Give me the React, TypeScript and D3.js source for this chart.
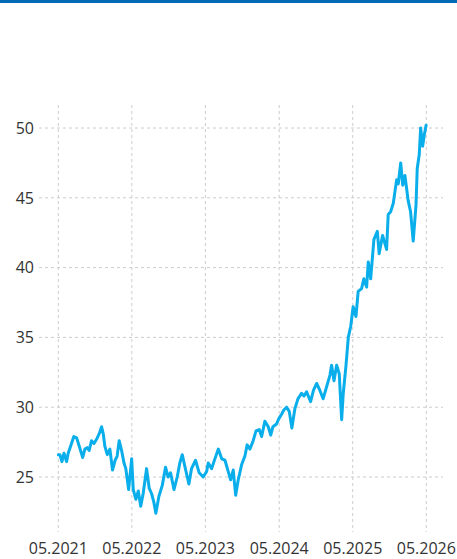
import React from 'react';
import * as d3 from 'd3';

const dates = [
  '2021-05-01', '2021-05-09', '2021-05-19', '2021-05-29', '2021-06-11', '2021-06-19', '2021-07-01', '2021-07-17',
  '2021-07-31', '2021-08-13', '2021-08-30', '2021-09-10', '2021-09-21', '2021-10-01', '2021-10-13', '2021-10-25',
  '2021-11-07', '2021-11-20', '2021-12-02', '2021-12-10', '2021-12-18', '2021-12-30', '2022-01-12', '2022-01-25',
  '2022-02-07', '2022-02-17', '2022-02-27', '2022-03-11', '2022-03-23', '2022-04-01', '2022-04-15', '2022-04-30',
  '2022-05-08', '2022-05-21', '2022-06-02', '2022-06-14', '2022-06-26', '2022-07-13', '2022-07-26', '2022-08-07',
  '2022-08-18', '2022-08-28', '2022-09-12', '2022-09-29', '2022-10-15', '2022-10-28', '2022-11-09', '2022-11-26',
  '2022-12-12', '2022-12-25', '2023-01-06', '2023-01-23', '2023-02-08', '2023-02-21', '2023-03-13', '2023-03-31',
  '2023-04-20', '2023-05-07', '2023-05-15', '2023-06-01', '2023-06-17', '2023-07-04', '2023-07-21', '2023-08-06',
  '2023-08-22', '2023-09-03', '2023-09-16', '2023-09-28', '2023-10-11', '2023-10-28', '2023-11-13', '2023-11-24',
  '2023-12-08', '2023-12-24', '2024-01-07', '2024-01-23', '2024-02-04', '2024-02-20', '2024-03-08', '2024-03-20',
  '2024-03-31', '2024-04-18', '2024-04-30', '2024-05-13', '2024-05-24', '2024-06-07', '2024-06-20', '2024-07-03',
  '2024-07-18', '2024-08-02', '2024-08-20', '2024-09-01', '2024-09-14', '2024-10-04', '2024-10-18', '2024-11-03',
  '2024-11-19', '2024-12-05', '2024-12-25', '2025-01-08', '2025-01-16', '2025-01-28', '2025-02-10', '2025-02-23',
  '2025-03-07', '2025-03-15', '2025-03-28', '2025-04-09', '2025-04-21', '2025-05-03', '2025-05-17', '2025-05-28',
  '2025-06-14', '2025-06-25', '2025-07-09', '2025-07-17', '2025-07-29', '2025-08-14', '2025-08-31', '2025-09-09',
  '2025-09-26', '2025-10-16', '2025-10-24', '2025-11-05', '2025-11-18', '2025-12-05', '2025-12-13', '2025-12-25',
  '2026-01-04', '2026-01-15', '2026-01-31', '2026-02-12', '2026-02-25', '2026-03-11', '2026-03-17', '2026-03-27',
  '2026-04-03', '2026-04-13', '2026-04-21', '2026-04-30',
];

const prices = [
  26.6, 26.6, 26.1, 26.7, 26.1, 26.7, 27.2, 27.9,
  27.8, 27.2, 26.4, 27.0, 27.1, 26.9, 27.6, 27.4,
  27.7, 28.1, 28.6, 28.1, 27.2, 26.6, 27.0, 25.5,
  26.2, 26.5, 27.6, 26.9, 26.0, 25.6, 24.1, 26.3,
  24.1, 23.4, 24.0, 22.9, 23.8, 25.6, 24.2, 23.8,
  23.2, 22.4, 23.6, 24.4, 25.7, 25.0, 25.3, 24.1,
  25.0, 26.0, 26.6, 25.5, 24.5, 25.6, 26.2, 25.3,
  25.0, 25.4, 26.0, 25.6, 26.3, 27.0, 26.3, 26.2,
  25.4, 24.8, 25.5, 23.7, 24.8, 25.9, 26.5, 27.3,
  27.0, 27.6, 28.3, 28.4, 27.9, 29.0, 28.6, 28.0,
  28.6, 28.8, 29.2, 29.5, 29.8, 30.0, 29.7, 28.5,
  29.9, 30.6, 31.0, 30.8, 31.1, 30.4, 31.2, 31.7,
  31.2, 30.6, 31.6, 32.3, 33.0, 31.9, 33.0, 32.4,
  29.1, 31.0, 32.9, 35.0, 35.8, 37.2, 36.5, 38.3,
  38.5, 39.2, 38.6, 40.4, 39.2, 42.0, 42.6, 41.0,
  42.3, 41.3, 43.8, 44.0, 44.6, 46.3, 46.0, 47.5,
  45.9, 46.6, 44.8, 44.0, 41.9, 44.5, 47.1, 48.1,
  50.0, 48.7, 49.5, 50.2,
];

const yTicks = [25, 30, 35, 40, 45, 50];
const xTicks = ['2021-05-01', '2022-05-01', '2023-05-01', '2024-05-01', '2025-05-01', '2026-05-01'];

const W = 457;
const H = 559;

export default function App() {
  const parse = d3.timeParse('%Y-%m-%d');
  const fmt = d3.timeFormat('%m.%Y');

  const x = d3.scaleTime()
    .domain([parse('2021-05-01')!, parse('2026-05-01')!])
    .range([58.3, 426.3]);
  const y = d3.scaleLinear().domain([25, 50]).range([477, 128]);

  const points = dates.map((d, i) => ({ date: parse(d)!, value: prices[i] }));
  const line = d3.line<{ date: Date; value: number }>()
    .x(d => x(d.date))
    .y(d => y(d.value));

  const font = '"Open Sans", sans-serif';

  return (
    <svg width={W} height={H} style={{ position: 'absolute', left: 0, top: 0, background: '#fff' }}>
      <rect x={0} y={0} width={W} height={3} fill="#0069b4" />

      {/* vertical grid */}
      {xTicks.map(t => (
        <line key={t} x1={x(parse(t)!)} x2={x(parse(t)!)} y1={105} y2={532}
          stroke="#cccccc" strokeDasharray="3 3" strokeWidth={1} />
      ))}
      {/* horizontal grid */}
      {yTicks.map(t => (
        <line key={t} x1={39} x2={443} y1={y(t)} y2={y(t)}
          stroke="#cccccc" strokeDasharray="3 3" strokeWidth={1} />
      ))}

      <path d={line(points) ?? ''} fill="none" stroke="#0aaeeb" strokeWidth={3}
        strokeLinejoin="round" strokeLinecap="round" />

      {yTicks.map(t => (
        <text key={t} x={34} y={y(t) + 5.7} textAnchor="end" fontFamily={font}
          fontSize={16} fill="#333">{t}</text>
      ))}
      {xTicks.map(t => (
        <text key={t} x={x(parse(t)!)} y={554} textAnchor="middle" fontFamily={font}
          fontSize={16} fill="#333">{fmt(parse(t)!)}</text>
      ))}
    </svg>
  );
}
